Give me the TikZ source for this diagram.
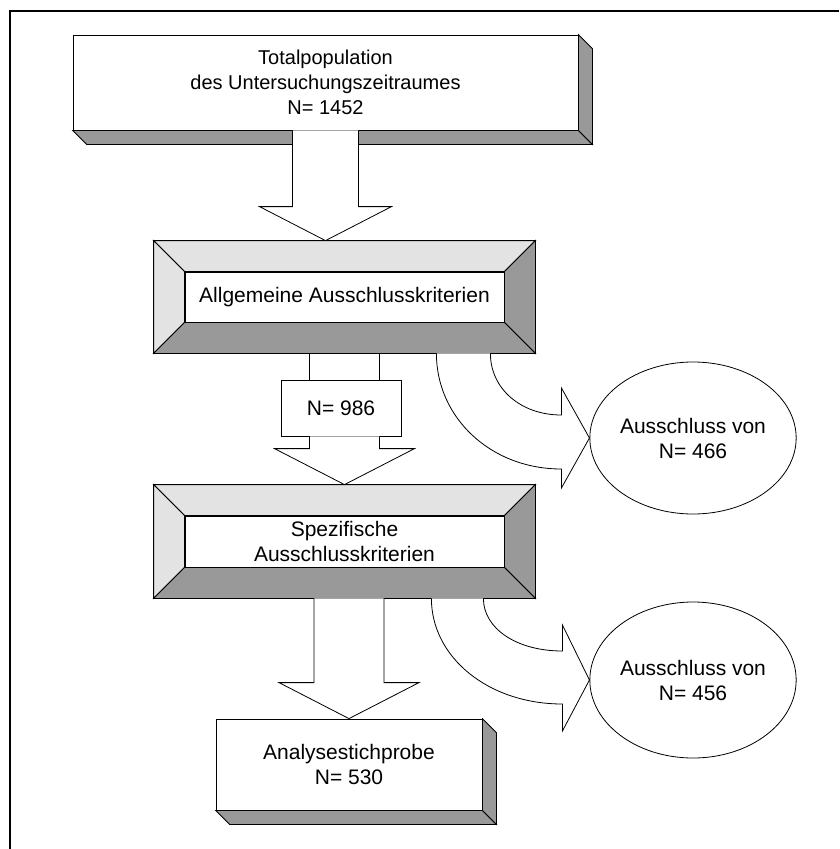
\documentclass[tikz,border=0pt]{standalone}
\usepackage{fontspec}
\setmainfont{Liberation Sans}
\usetikzlibrary{shapes.geometric,calc}
\definecolor{bevlight}{HTML}{E3E3E3}
\definecolor{bevdark}{HTML}{999999}

\begin{document}
\begin{tikzpicture}[x=1pt,y=-1pt,
  every node/.style={font=\fontsize{21}{25}\selectfont,align=center,inner sep=0pt},
  outl/.style={draw=black,line width=0.8pt,line join=miter},
  box/.style={outl,fill=white},
  darkface/.style={outl,fill=bevdark},
  lightface/.style={outl,fill=bevlight},
  blockarrow/.style={outl,fill=white},
  oval/.style={outl,ellipse,minimum width=200pt}]
\useasboundingbox (0,0) rectangle (839,849);
\draw[line width=1.2pt] (10,849) -- (10,11) -- (839,11);
\pgfmathsetmacro{\depth}{14}
\pgfmathsetmacro{\bev}{31}

% boxes
\node[box,minimum width=505pt,minimum height=95pt,font=\fontsize{20}{25}\selectfont] (tot) at (325.5,82.5) {Totalpopulation\\des Untersuchungszeitraumes\\N= 1452};
\node[box,minimum width=319pt,minimum height=50pt] (alg) at (344.5,297) {Allgemeine Ausschlusskriterien};
\node[box,minimum width=120pt,minimum height=56pt] (n986) at (341,408) {N= 986};
\node[box,minimum width=319pt,minimum height=51pt] (spez) at (344.5,541.5) {Spezifische\\Ausschlusskriterien};
\node[box,minimum width=266pt,minimum height=91pt] (ana) at (349,764.5) {Analysestichprobe\\N= 530};
\node[oval,minimum height=152pt] (ex1) at (693,438) {Ausschluss von\\N= 466};
\node[oval,minimum height=156pt] (ex2) at (693,680) {Ausschluss von\\N= 456};

% 3d sides
\foreach \b in {tot,ana} {
  \draw[darkface] (\b.south west) -- ++(\depth,\depth) -- ($(\b.south east)+(\depth,\depth)$) -- (\b.south east) -- cycle;
  \draw[darkface] (\b.north east) -- ++(\depth,\depth) -- ($(\b.south east)+(\depth,\depth)$) -- (\b.south east) -- cycle;
}
% bevels
\foreach \b in {alg,spez} {
  \draw[lightface] ($(\b.north west)+(-\bev,-\bev)$) -- ($(\b.north east)+(\bev,-\bev)$) -- (\b.north east) -- (\b.north west) -- cycle;
  \draw[lightface] ($(\b.north west)+(-\bev,-\bev)$) -- (\b.north west) -- (\b.south west) -- ($(\b.south west)+(-\bev,\bev)$) -- cycle;
  \draw[darkface] ($(\b.north east)+(\bev,-\bev)$) -- ($(\b.south east)+(\bev,\bev)$) -- (\b.south east) -- (\b.north east) -- cycle;
  \draw[darkface] ($(\b.south west)+(-\bev,\bev)$) -- (\b.south west) -- (\b.south east) -- ($(\b.south east)+(\bev,\bev)$) -- cycle;
}

\coordinate (algtop) at ($(alg.north)+(0,-\bev)$);
\coordinate (algbot) at ($(alg.south)+(0,\bev)$);
\coordinate (speztop) at ($(spez.north)+(0,-\bev)$);
\coordinate (spezbot) at ($(spez.south)+(0,\bev)$);
\coordinate (tip1) at (tot.south |- algtop);
\coordinate (a2l) at ($(algbot)+(-35,0)$);
\coordinate (a2r) at ($(algbot)+(35,0)$);
\coordinate (s3) at (spezbot -| ana.north);

% straight arrows
\draw[blockarrow] ($(tot.south)+(-33,0)$) |- ($(tip1)+(-66,-34)$) -- (tip1) -- ($(tip1)+(66,-34)$) -| ($(tot.south)+(33,0)$);
\draw[outl] (a2l) -- (a2l |- n986.north) (a2r) -- (a2r |- n986.north);
\draw[blockarrow] (a2l |- n986.south) |- ($(speztop)+(-70,-36)$) -- (speztop) -- ($(speztop)+(70,-36)$) -| (a2r |- n986.south);
\draw[blockarrow] ($(s3)+(-35,0)$) |- ($(ana.north)+(-70,-36)$) -- (ana.north) -- ($(ana.north)+(70,-36)$) -| ($(s3)+(35,0)$);

% curved arrows
\draw[blockarrow] ($(alg.south east)+(-14,\bev)$) .. controls +(0,35) and +(-41,0) .. ($(ex1.west)+(-28,-23)$) -- ++(0,-27) -- (ex1.west) -- ($(ex1.west)+(-28,50)$) -- ++(0,-19) .. controls +(-71,0) and +(0,64) .. ($(alg.south east)+(-68,\bev)$);
\draw[blockarrow] ($(spez.south east)+(-21,\bev)$) .. controls +(0,30) and +(-46,0) .. ($(ex2.west)+(-27,-29)$) -- ++(0,-26) -- (ex2.west) -- ($(ex2.west)+(-27,51)$) -- ++(0,-27) .. controls +(-74,0) and +(0,59) .. ($(spez.south east)+(-73,\bev)$);
\end{tikzpicture}
\end{document}
